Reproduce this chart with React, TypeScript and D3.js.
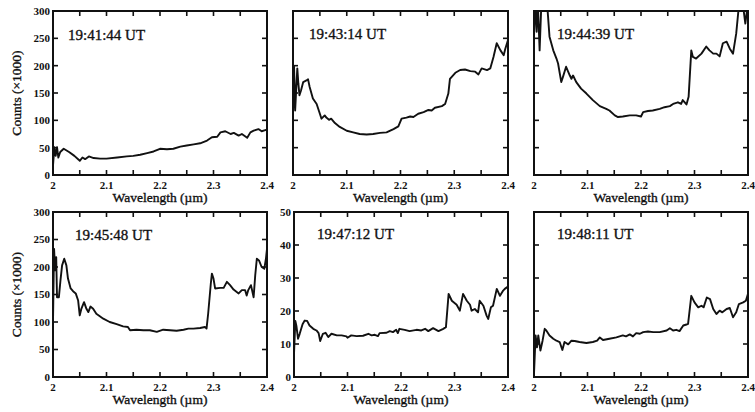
import React from 'react';
import * as d3 from 'd3';

// six spectra, [wavelength µm, counts ×1000]
const spec194144: [number, number][] = [
  [2.0, 17], [2.0025, 51], [2.005, 35], [2.0075, 51], [2.01, 32], [2.0135, 42], [2.02, 48], [2.03, 42],
  [2.04, 35], [2.048, 28], [2.05, 26], [2.055, 32], [2.06, 29], [2.067, 34], [2.076, 31], [2.088, 30],
  [2.1, 30], [2.12, 32], [2.138, 34], [2.15, 35], [2.163, 37], [2.176, 40], [2.188, 43], [2.2, 48],
  [2.213, 47], [2.225, 48], [2.238, 52], [2.25, 54], [2.263, 56], [2.275, 58], [2.288, 63], [2.297, 69],
  [2.307, 70], [2.313, 78], [2.322, 80], [2.332, 75], [2.338, 77], [2.347, 72], [2.353, 75], [2.363, 68],
  [2.369, 78], [2.375, 81], [2.384, 84], [2.39, 80], [2.4, 83],
];

const spec194314: [number, number][] = [
  [2.0, 112], [2.002, 198], [2.004, 118], [2.008, 195], [2.01, 167], [2.012, 146], [2.015, 155], [2.019, 170],
  [2.025, 173], [2.028, 175], [2.031, 161], [2.037, 140], [2.044, 130], [2.05, 112], [2.053, 103], [2.059, 109],
  [2.062, 105], [2.067, 101], [2.071, 103], [2.078, 95], [2.087, 88], [2.1, 81], [2.112, 78], [2.124, 75],
  [2.137, 74], [2.149, 75], [2.162, 77], [2.174, 78], [2.187, 84], [2.196, 89], [2.202, 103], [2.211, 105],
  [2.218, 107], [2.224, 106], [2.233, 112], [2.243, 115], [2.252, 119], [2.258, 118], [2.264, 123], [2.277, 126],
  [2.283, 130], [2.289, 149], [2.292, 176], [2.302, 187], [2.311, 192], [2.32, 193], [2.33, 190], [2.339, 189],
  [2.345, 184], [2.351, 195], [2.361, 192], [2.367, 195], [2.373, 216], [2.379, 241], [2.386, 228], [2.392, 219],
  [2.395, 231], [2.4, 247],
];

const spec194439: [number, number][] = [
  [2.0, 255], [2.003, 320], [2.005, 262], [2.007, 320], [2.0105, 228], [2.014, 320], [2.024, 320], [2.029, 253],
  [2.036, 228], [2.042, 213], [2.045, 204], [2.051, 170], [2.054, 179], [2.06, 198], [2.067, 182], [2.07, 176],
  [2.073, 182], [2.079, 170], [2.088, 158], [2.098, 149], [2.11, 137], [2.123, 126], [2.135, 121], [2.141, 118],
  [2.151, 109], [2.157, 106], [2.166, 107], [2.179, 109], [2.191, 109], [2.2, 107], [2.204, 115], [2.213, 117],
  [2.222, 118], [2.235, 121], [2.244, 124], [2.254, 126], [2.26, 130], [2.269, 133], [2.275, 130], [2.278, 137],
  [2.285, 129], [2.289, 143], [2.294, 228], [2.297, 216], [2.303, 213], [2.313, 222], [2.322, 235], [2.328, 228],
  [2.335, 222], [2.341, 222], [2.347, 217], [2.353, 241], [2.36, 244], [2.366, 231], [2.372, 222], [2.378, 259],
  [2.383, 310], [2.388, 330], [2.392, 300], [2.395, 277], [2.398, 300], [2.4, 320],
];

const spec194548: [number, number][] = [
  [2.0, 100], [2.002, 233], [2.004, 194], [2.006, 218], [2.0075, 145], [2.011, 145], [2.014, 176], [2.017, 203],
  [2.021, 215], [2.025, 203], [2.028, 179], [2.033, 161], [2.0375, 156], [2.0425, 152], [2.047, 139], [2.05, 112],
  [2.053, 124], [2.058, 136], [2.0625, 124], [2.066, 118], [2.07, 128], [2.075, 124], [2.081, 115], [2.094, 106],
  [2.106, 100], [2.119, 96], [2.131, 92], [2.14, 91], [2.144, 85], [2.156, 86], [2.169, 85], [2.181, 85],
  [2.194, 82], [2.206, 86], [2.219, 85], [2.231, 84], [2.244, 86], [2.253, 88], [2.2625, 88], [2.275, 89],
  [2.284, 91], [2.287, 88], [2.29, 115], [2.295, 170], [2.297, 188], [2.3, 179], [2.303, 161], [2.3125, 162],
  [2.319, 162], [2.325, 173], [2.331, 167], [2.3375, 159], [2.347, 152], [2.353, 158], [2.359, 158], [2.362, 148],
  [2.365, 158], [2.37, 167], [2.375, 145], [2.378, 185], [2.381, 215], [2.385, 212], [2.39, 200], [2.395, 197],
  [2.398, 215], [2.4, 233],
];

const spec194712: [number, number][] = [
  [2.0, 7], [2.0025, 17], [2.0045, 15.5], [2.0075, 11.6], [2.0105, 13], [2.016, 16], [2.02, 17.1], [2.0245, 17],
  [2.029, 15.6], [2.036, 14.6], [2.042, 14.1], [2.046, 13.3], [2.049, 10.9], [2.054, 13.1], [2.059, 13.4], [2.064, 12.1],
  [2.07, 13.1], [2.08, 12.6], [2.089, 12.6], [2.098, 12.3], [2.1, 11.9], [2.107, 12.6], [2.117, 12.4], [2.129, 12.5],
  [2.139, 13.1], [2.145, 12.6], [2.151, 12.8], [2.157, 12.4], [2.16, 13.3], [2.173, 13.4], [2.179, 13.9], [2.185, 13.6],
  [2.191, 14.3], [2.194, 13.3], [2.197, 14.6], [2.207, 14.3], [2.216, 13.9], [2.229, 14.3], [2.238, 14.1], [2.245, 14.6],
  [2.251, 13.9], [2.26, 14.8], [2.27, 13.9], [2.279, 14.6], [2.284, 15.1], [2.289, 25.2], [2.295, 23.1], [2.304, 21.9],
  [2.31, 20.1], [2.316, 25.2], [2.323, 23.1], [2.329, 21.9], [2.332, 20.1], [2.338, 20.6], [2.344, 19.6], [2.347, 23.1],
  [2.354, 21.6], [2.36, 18.6], [2.363, 17.6], [2.368, 21.1], [2.372, 21.6], [2.379, 26.7], [2.385, 24.6], [2.391, 26.2],
  [2.394, 26.7], [2.4, 27.4],
];

const spec194811: [number, number][] = [
  [2.0, 1], [2.003, 12.6], [2.0056, 9], [2.008, 12.6], [2.012, 8], [2.016, 11], [2.02, 14.6], [2.023, 14.1],
  [2.029, 12.6], [2.036, 11.6], [2.042, 11], [2.048, 10.6], [2.053, 8.2], [2.057, 10.6], [2.064, 9.9], [2.07, 11],
  [2.076, 10.9], [2.085, 10.6], [2.098, 10.3], [2.11, 10.6], [2.118, 11], [2.123, 12], [2.129, 11.2], [2.141, 11.6],
  [2.154, 12], [2.166, 12.6], [2.172, 12.3], [2.179, 12.9], [2.185, 12.3], [2.191, 13.3], [2.198, 13.1], [2.204, 13.6],
  [2.213, 13.8], [2.223, 13.6], [2.235, 13.6], [2.248, 14.1], [2.254, 14.8], [2.26, 14.1], [2.266, 14.3], [2.272, 13.9],
  [2.279, 15.6], [2.285, 15.9], [2.288, 16.1], [2.294, 24.6], [2.3, 22.6], [2.307, 21.1], [2.313, 21.6], [2.317, 21.1],
  [2.323, 24.1], [2.329, 23.6], [2.335, 20.6], [2.341, 19.1], [2.347, 20.1], [2.352, 19.6], [2.36, 20.6], [2.366, 20.9],
  [2.372, 18.1], [2.378, 19.6], [2.383, 22.1], [2.391, 22.6], [2.396, 23.1], [2.4, 25.2],
];

const titles = ['19:41:44 UT', '19:43:14 UT', '19:44:39 UT', '19:45:48 UT', '19:47:12 UT', '19:48:11 UT'];
const xTicks = [2.05, 2.1, 2.15, 2.2, 2.25, 2.3, 2.35];
const xTickLabels = [2, 2.1, 2.2, 2.3, 2.4];
const bigTicks = [0, 50, 100, 150, 200, 250, 300];
const smallTicks = [0, 10, 20, 30, 40, 50];

const FONT = '"Liberation Serif", "Times New Roman", serif';
const INK = '#111';

const layout = [
  { x0: 53, x1: 267, y0: 11, y1: 175, ymax: 300, ticks: bigTicks, labels: true, tdx: 15, tdy: 29, data: spec194144 },
  { x0: 293, x1: 508, y0: 11, y1: 175, ymax: 300, ticks: bigTicks, labels: false, tdx: 16, tdy: 28, data: spec194314 },
  { x0: 534, x1: 748, y0: 11, y1: 175, ymax: 300, ticks: bigTicks, labels: false, tdx: 23, tdy: 28, data: spec194439 },
  { x0: 53, x1: 267, y0: 212, y1: 377, ymax: 300, ticks: bigTicks, labels: true, tdx: 22, tdy: 28, data: spec194548 },
  { x0: 294, x1: 508, y0: 212, y1: 377, ymax: 50, ticks: smallTicks, labels: true, tdx: 23, tdy: 27, data: spec194712 },
  { x0: 534, x1: 748, y0: 212, y1: 377, ymax: 50, ticks: smallTicks, labels: false, tdx: 23, tdy: 27, data: spec194811 },
];

const Panel = ({ p, i }) => {
  const x = d3.scaleLinear().domain([2, 2.4]).range([p.x0, p.x1]);
  const y = d3.scaleLinear().domain([0, p.ymax]).range([p.y1, p.y0]);
  const line = d3.line<[number, number]>().x(d => x(d[0])).y(d => y(d[1]));
  const inner = p.ticks.slice(1, -1);
  const tl = 5;

  return (
    <g>
      <clipPath id={`clip${i}`}>
        <rect x={p.x0} y={p.y0} width={p.x1 - p.x0} height={p.y1 - p.y0} />
      </clipPath>
      <path d={line(p.data) || ''} fill="none" stroke={INK} strokeWidth={1.9}
        strokeLinejoin="round" clipPath={`url(#clip${i})`} />

      {xTicks.map(t => (
        <g key={'x' + t} stroke={INK} strokeWidth={1.6}>
          <line x1={x(t)} x2={x(t)} y1={p.y1} y2={p.y1 - tl} />
          <line x1={x(t)} x2={x(t)} y1={p.y0} y2={p.y0 + tl} />
        </g>
      ))}
      {inner.map(t => (
        <g key={'y' + t} stroke={INK} strokeWidth={1.6}>
          <line x1={p.x0} x2={p.x0 + tl} y1={y(t)} y2={y(t)} />
          <line x1={p.x1} x2={p.x1 - tl} y1={y(t)} y2={y(t)} />
        </g>
      ))}
      <rect x={p.x0} y={p.y0} width={p.x1 - p.x0} height={p.y1 - p.y0}
        fill="none" stroke={INK} strokeWidth={2} />

      <g fontFamily={FONT} fontSize={11} fontWeight="bold" fill={INK}>
        {xTickLabels.map(t => (
          <text key={'xl' + t} x={x(t)} y={p.y1 + 13.5} textAnchor="middle">{d3.format('~g')(t)}</text>
        ))}
        {p.labels && p.ticks.map(t => (
          <text key={'yl' + t} x={p.x0 - 3} y={y(t)} dy="0.35em" textAnchor="end">{t}</text>
        ))}
      </g>

      <g fill={INK} stroke={INK} strokeWidth={0.35} fontFamily={FONT}>
        <text x={p.x0 + p.tdx} y={p.y0 + p.tdy} fontSize={15}>{titles[i]}</text>
        <text x={(p.x0 + p.x1) / 2} y={p.y1 + 27} fontSize={13.5} textAnchor="middle">Wavelength (µm)</text>
        {p.labels && p.ymax === 300 && (
          <text transform={`translate(21,${(p.y0 + p.y1) / 2}) rotate(-90)`}
            fontSize={13.5} textAnchor="middle">Counts (×1000)</text>
        )}
      </g>
    </g>
  );
};

export default function App() {
  return (
    <svg width={755} height={412} style={{ position: 'absolute', left: 0, top: 0, background: '#fff' }}>
      {layout.map((p, i) => <Panel key={i} p={p} i={i} />)}
    </svg>
  );
}
